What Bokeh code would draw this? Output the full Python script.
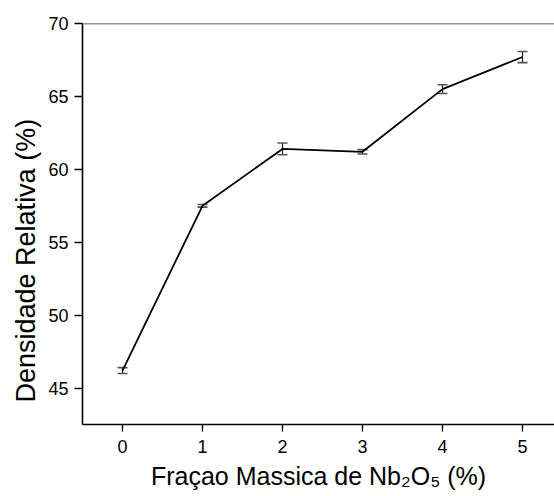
from bokeh.plotting import figure
from bokeh.models import Whisker, ColumnDataSource, Span, FixedTicker, Range1d, TeeHead, Title
from bokeh.embed import file_html
from bokeh.resources import INLINE

# data
fractions = [0, 1, 2, 3, 4, 5]
density = [46.2, 57.5, 61.4, 61.2, 65.5, 67.7]
errors = [0.2, 0.09, 0.4, 0.15, 0.3, 0.38]
x_ticks = [0, 1, 2, 3, 4, 5]
y_ticks = [45, 50, 55, 60, 65, 70]
x_label = "Fraçao Massica de Nb\u2082O\u2085 (%)"
y_label = "Densidade Relativa (%)"

FONT = "Liberation Sans"

LEFT, TOP, BOTTOM_Y = 82, 23, 424
p = figure(width=554, height=496, x_range=Range1d(-0.5, 5.4), y_range=Range1d(42.5, 70),
           output_backend="svg", toolbar_location=None,
           min_border_left=LEFT, min_border_right=0, min_border_top=TOP,
           min_border_bottom=496 - BOTTOM_Y)
p.grid.visible = False
p.outline_line_color = None
p.background_fill_color = "white"
p.border_fill_color = "white"

for ax in (p.xaxis[0], p.yaxis[0]):
    ax.axis_line_color = "black"
    ax.axis_line_width = 1.6
    ax.major_tick_line_color = "black"
    ax.major_tick_line_width = 1.4
    ax.major_tick_in = 0
    ax.minor_tick_line_color = None
    ax.major_label_text_font = FONT
    ax.major_label_text_font_size = "18px"
    ax.major_label_text_color = "black"

p.xaxis.ticker = FixedTicker(ticks=x_ticks)
p.yaxis.ticker = FixedTicker(ticks=y_ticks)
p.xaxis.major_tick_out = 7
p.yaxis.major_tick_out = 8
p.xaxis.major_label_standoff = 8
p.yaxis.major_label_standoff = 6

p.add_layout(Span(location=70, dimension="width", line_color="#333333", line_width=1.6))

p.line(fractions, density, line_color="black", line_width=1.8)

src = ColumnDataSource(dict(
    x=fractions,
    upper=[d + e for d, e in zip(density, errors)],
    lower=[d - e for d, e in zip(density, errors)],
))
p.add_layout(Whisker(base="x", upper="upper", lower="lower", source=src,
                     line_color="#222222", line_width=1.2,
                     upper_head=TeeHead(size=10, line_color="#555555", line_width=1.6),
                     lower_head=TeeHead(size=10, line_color="#555555", line_width=1.6)))

p.add_layout(Title(text=x_label, align="center", offset=3, standoff=9,
                   text_font=FONT, text_font_size="25px", text_font_style="normal",
                   text_color="black"), "below")
p.add_layout(Title(text=y_label, align="left", offset=22, standoff=9,
                   text_font=FONT, text_font_size="27px", text_font_style="normal",
                   text_color="black"), "left")

open("out.html", "w").write(file_html(p, INLINE))
